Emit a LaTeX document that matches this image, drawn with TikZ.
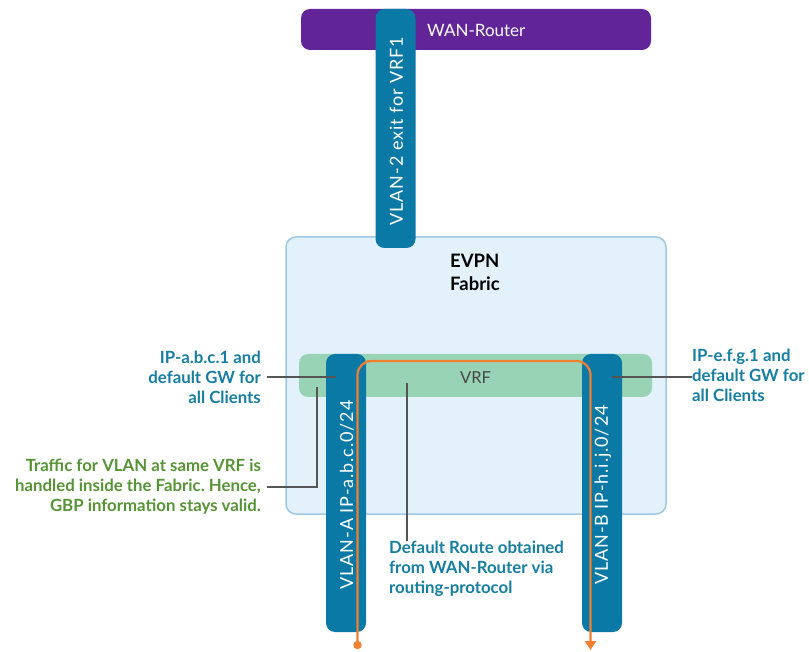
\documentclass[tikz,border=0pt]{standalone}
\usepackage{fontspec}
\setmainfont{Lato}
\usetikzlibrary{arrows.meta}
\frenchspacing

\definecolor{wanpurple}{RGB}{97,37,152}
\definecolor{vlanblue}{RGB}{10,121,166}
\definecolor{fabricfill}{RGB}{227,241,250}
\definecolor{fabricline}{RGB}{158,200,228}
\definecolor{vrfgreen}{RGB}{153,211,182}
\definecolor{routeorange}{RGB}{240,127,48}
\definecolor{labelblue}{RGB}{22,126,160}
\definecolor{labelgreen}{RGB}{86,148,54}
\definecolor{leadergray}{RGB}{85,85,85}

\tikzset{
  bar/.style={rounded corners=9pt, inner sep=0pt},
  vlanbar/.style={bar, fill=vlanblue, minimum width=40pt},
  bartext/.style={text=white, font=\fontsize{18}{20}\selectfont\addfontfeatures{LetterSpace=5}, rotate=90},
  sidelabel/.style={font=\bfseries\fontsize{16.8}{20}\selectfont, inner sep=0pt},
  leader/.style={draw=leadergray, line width=1.1pt},
  route/.style={draw=routeorange, line width=2.2pt, rounded corners=14pt}
}

\begin{document}
\begin{tikzpicture}[x=1pt,y=-1pt]
\useasboundingbox (0,0) rectangle (809,652);
\fill[white] (0,0) rectangle (809,652);

% WAN router
\node[bar, fill=wanpurple, minimum width=350pt, minimum height=41pt] (wan) at (476,29.5) {};
\node[text=white, font=\fontsize{17}{20}\selectfont, anchor=west, inner sep=0pt] (wantext) at (427,30) {WAN-Router};

% EVPN fabric
\node[draw=fabricline, fill=fabricfill, line width=1.5pt, rounded corners=10pt,
      minimum width=380pt, minimum height=277pt, inner sep=0pt] (fabric) at (476,375.5) {};
\node[font=\bfseries\fontsize{18.5}{23}\selectfont, align=left, anchor=north west, inner sep=0pt] (fabtext) at (450,254) {EVPN\\Fabric};

% exit VLAN towards the WAN router
\node[vlanbar, minimum height=239pt] (vlan2) at (395.5,128.5) {};
\node[bartext] (vlan2text) at (396.5,131) {VLAN-2 exit for VRF1};

% VRF
\node[bar, fill=vrfgreen, minimum width=353pt, minimum height=43pt] (vrf) at (475.5,375.5) {};
\node[text=black!72, font=\fontsize{16.5}{18}\selectfont] (vrftext) at (475.5,377.5) {VRF};

% client VLANs
\node[vlanbar, minimum height=278pt] (vlana) at (346,493) {};
\node[bartext] (vlanatext) at (347,495) {VLAN-A IP-a.b.c.0/24};
\node[vlanbar, minimum height=278pt] (vlanb) at (602,493) {};
\node[bartext] (vlanbtext) at (603,495) {VLAN-B IP-h.i.j.0/24};

% default route through the VRF
\coordinate (rstart) at (357.5,645);
\coordinate (rleft) at (357.5,361);
\coordinate (rright) at (590.5,361);
\coordinate (rend) at (590.5,650);
\draw[route, -{Triangle[width=11pt,length=9pt]}] (rstart) -- (rleft) -- (rright) -- (rend);
\fill[routeorange] (rstart) circle (4.2pt);

% gateway label, VLAN-A
\node[sidelabel, text=labelblue, align=right, anchor=east] (ipa) at (261,377)
  {IP-a.b.c.1 and\\default GW for\\all Clients};
\coordinate (ipaend) at (336,377);
\draw[leader] ([xshift=6pt]ipa.east) -- (ipaend);

% gateway label, VLAN-B
\node[sidelabel, text=labelblue, align=left, anchor=west] (ipe) at (692,375)
  {IP-e.f.g.1 and\\default GW for\\all Clients};
\coordinate (ipeend) at (612,377);
\draw[leader] (ipeend) -- (ipeend -| ipe.west) -- ++(-6,0);

% intra-VRF traffic note
\node[sidelabel, text=labelgreen, align=right, anchor=east] (traffic) at (261,487)
  {Traffic for VLAN at same VRF is\\handled inside the Fabric. Hence,\\GBP information stays valid.};
\coordinate (trafend) at (317,387);
\draw[leader] ([xshift=6pt]traffic.east) -| (trafend);

% default route note
\node[sidelabel, text=labelblue, align=left, anchor=north west] (droute) at (389,541)
  {Default Route obtained\\from WAN-Router via\\routing-protocol};
\coordinate (drend) at (407,383);
\draw[leader] (drend) -- (drend |- droute.north) -- ++(0,-6);
\end{tikzpicture}
\end{document}
